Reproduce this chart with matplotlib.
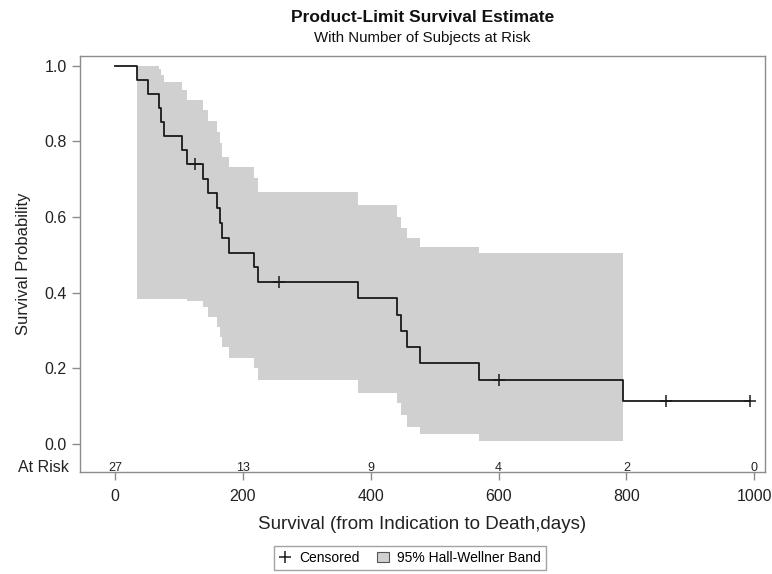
import numpy as np
import matplotlib
matplotlib.use('Agg')
import matplotlib.pyplot as plt
from matplotlib.lines import Line2D
from matplotlib.patches import Patch

plt.rcParams['font.family'] = ['Liberation Sans', 'DejaVu Sans']

# DATA
death_days = [34, 52, 69, 72, 76, 104, 112, 138, 146, 160, 164, 167, 178,
              218, 223, 380, 441, 448, 456, 477, 569, 794]
surv_after = [0.963, 0.926, 0.889, 0.852, 0.815, 0.778, 0.741, 0.702, 0.663,
              0.624, 0.585, 0.546, 0.506, 0.467, 0.428, 0.385, 0.342, 0.299,
              0.257, 0.213, 0.170, 0.113]
end_day = 994

censor_days = [125, 257, 601, 862, 994]
censor_surv = [0.741, 0.428, 0.170, 0.113, 0.113]

band_upper = [1.0, 1.0, 0.991, 0.976, 0.956, 0.937, 0.910, 0.884, 0.854, 0.826,
              0.795, 0.760, 0.732, 0.703, 0.667, 0.632, 0.601, 0.572, 0.544,
              0.522, 0.504, 0.504]
band_lower = [0.384, 0.384, 0.384, 0.384, 0.384, 0.384, 0.378, 0.361, 0.337,
              0.310, 0.284, 0.257, 0.228, 0.200, 0.169, 0.136, 0.108, 0.077,
              0.046, 0.027, 0.009, 0.009]

risk_days = [0, 200, 400, 600, 800, 1000]
risk_counts = [27, 13, 9, 4, 2, 0]

# FIGURE
fig = plt.figure(figsize=(7.72, 5.74), dpi=100)
ax = fig.add_axes([80/772, 1-472/574, (765-80)/772, (472-56)/574])

band_col = '#d0d0d0'
ax.fill_between(death_days, band_lower, band_upper, step='post',
                color=band_col, linewidth=0, zorder=1)

# step curve
xs = [0] + death_days + [end_day]
ys = [1.0] + surv_after + [surv_after[-1]]
ax.step(xs, ys, where='post', color='#1a1a1a', linewidth=1.3, zorder=3)

ax.plot(censor_days, censor_surv, '+', color='#1a1a1a', markersize=9,
        markeredgewidth=1.1, zorder=4)

# at risk row
for d, n in zip(risk_days, risk_counts):
    ax.text(d, -0.063, str(n), ha='center', va='center', fontsize=9,
            color='#222222')
ax.text(-0.016, -0.063, 'At Risk', transform=ax.get_yaxis_transform(),
        ha='right', va='center', fontsize=11.5, color='#222222')

ax.set_xlim(-55, 1017)
ax.set_ylim(-0.074, 1.026)
ax.set_xticks(risk_days)
ax.set_yticks([0.0, 0.2, 0.4, 0.6, 0.8, 1.0])
ax.set_yticklabels(['0.0', '0.2', '0.4', '0.6', '0.8', '1.0'])

for s in ax.spines.values():
    s.set_color('#8c8c8c')
    s.set_linewidth(1.0)
ax.tick_params(axis='both', direction='out', length=6, width=1,
               color='#8c8c8c', labelsize=11.5, labelcolor='#222222')
ax.tick_params(axis='x', pad=6)

ax.set_xlabel('Survival (from Indication to Death,days)', fontsize=13.5,
              color='#222222', labelpad=9)
ax.set_ylabel('Survival Probability', fontsize=12, color='#222222',
              labelpad=10)

# titles
cx = (80 + 765) / 2 / 772
fig.text(cx, 1 - 18/574, 'Product-Limit Survival Estimate', ha='center',
         va='center', fontsize=12.5, fontweight='bold', color='#111111')
fig.text(cx, 1 - 38/574, 'With Number of Subjects at Risk', ha='center',
         va='center', fontsize=10.8, color='#111111')

# legend
handles = [Line2D([], [], marker='+', linestyle='none', color='#1a1a1a',
                  markersize=8, markeredgewidth=1.1),
           Patch(facecolor=band_col, edgecolor='#555555', linewidth=0.8)]
leg = fig.legend(handles, ['Censored', '95% Hall-Wellner Band'], ncol=2,
                 loc='center', bbox_to_anchor=(410/772, 1 - 558/574),
                 fontsize=10, frameon=True, fancybox=False,
                 handlelength=0.9, handletextpad=0.6, columnspacing=1.2,
                 borderpad=0.35)
leg.get_frame().set_edgecolor('#8c8c8c')
leg.get_frame().set_linewidth(1.0)

plt.savefig('out.png', dpi=100)
